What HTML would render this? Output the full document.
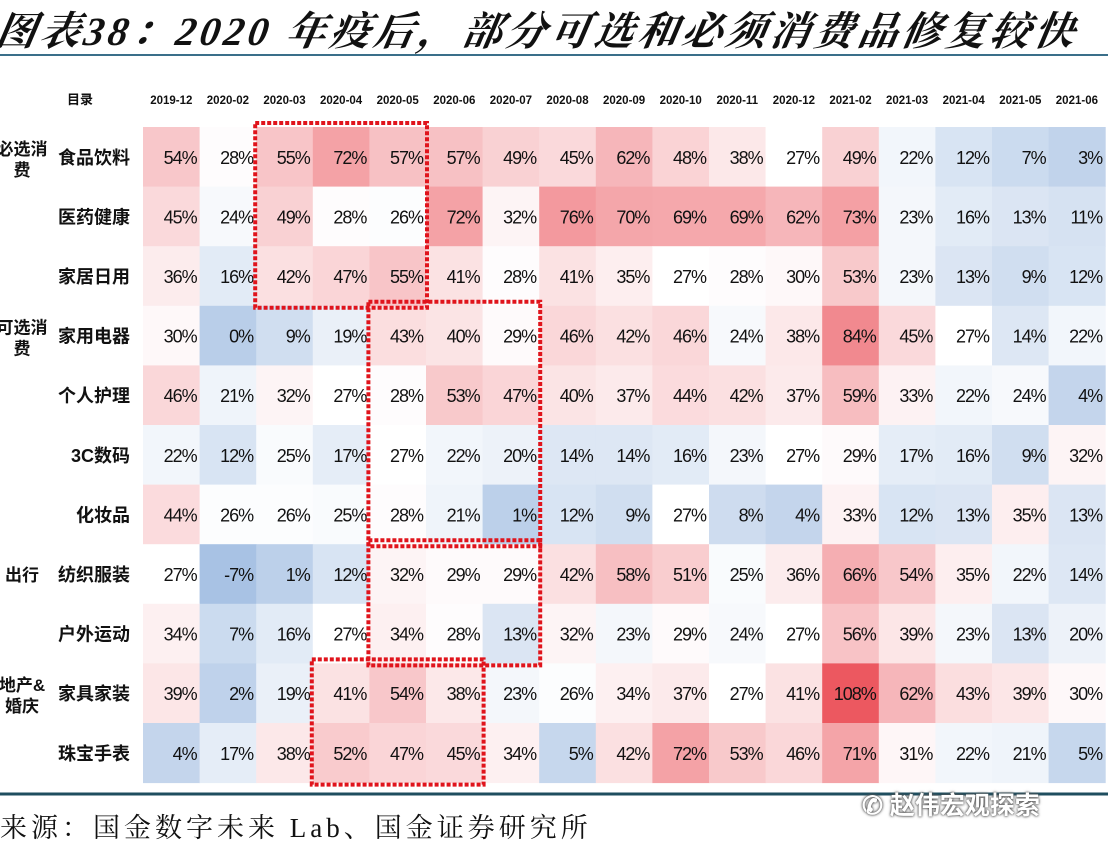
<!DOCTYPE html>
<html><head><meta charset="utf-8">
<style>
html,body{margin:0;padding:0;background:#fff;}
body{width:1108px;height:852px;overflow:hidden;position:relative;font-family:"Liberation Sans","Noto Sans CJK SC",sans-serif;}
#title{position:absolute;left:2px;top:0px;font-family:"Liberation Serif","Noto Serif CJK SC",serif;font-style:italic;font-weight:bold;font-size:40px;letter-spacing:4px;color:#111;white-space:nowrap;transform:skewX(-10deg);transform-origin:0 0;}
#src{position:absolute;left:0;top:806px;font-family:"Liberation Serif","Noto Serif CJK SC",serif;font-size:27px;color:#111;letter-spacing:4px;white-space:nowrap;}
#wm{position:absolute;left:862px;top:786px;font-size:25px;font-weight:bold;color:#fff;text-shadow:0 0 2px #444,0 0 3px #666;white-space:nowrap;}
</style></head><body>
<div id="title">图表38：2020 年疫后，部分可选和必须消费品修复较快</div>
<svg id="chart" width="1108" height="852" style="position:absolute;left:0;top:0"></svg>
<div id="src">来源：国金数字未来 Lab、国金证券研究所</div>
<div id="wm">✆ 赵伟宏观探索</div>
<script>
const months = ["2019-12","2020-02","2020-03","2020-04","2020-05","2020-06","2020-07","2020-08","2020-09","2020-10","2020-11","2020-12","2021-02","2021-03","2021-04","2021-05","2021-06"];
const categories = ["食品饮料","医药健康","家居日用","家用电器","个人护理","3C数码","化妆品","纺织服装","户外运动","家具家装","珠宝手表"];
const groups = [["必选消","费",0],["可选消","费",3],["出行","",7],["地产&","婚庆",9]];
const rowFood = [54,28,55,72,57,57,49,45,62,48,38,27,49,22,12,7,3];
const rowMed = [45,24,49,28,26,72,32,76,70,69,69,62,73,23,16,13,11];
const rowHome = [36,16,42,47,55,41,28,41,35,27,28,30,53,23,13,9,12];
const rowAppl = [30,0,9,19,43,40,29,46,42,46,24,38,84,45,27,14,22];
const rowCare = [46,21,32,27,28,53,47,40,37,44,42,37,59,33,22,24,4];
const row3C = [22,12,25,17,27,22,20,14,14,16,23,27,29,17,16,9,32];
const rowCos = [44,26,26,25,28,21,1,12,9,27,8,4,33,12,13,35,13];
const rowTex = [27,-7,1,12,32,29,29,42,58,51,25,36,66,54,35,22,14];
const rowOut = [34,7,16,27,34,28,13,32,23,29,24,27,56,39,23,13,20];
const rowFurn = [39,2,19,41,54,38,23,26,34,37,27,41,108,62,43,39,30];
const rowJew = [4,17,38,52,47,45,34,5,42,72,53,46,71,31,22,21,5];
const values = [rowFood,rowMed,rowHome,rowAppl,rowCare,row3C,rowCos,rowTex,rowOut,rowFurn,rowJew];
// highlight boxes: [firstCol,lastCol,firstRow,lastRow]
const boxes = [[2,4,0,2],[4,6,3,6],[4,6,7,8],[3,5,9,10]];

const NS="http://www.w3.org/2000/svg";
const svg=document.getElementById('chart');
const X0=143,CW=56.6,Y0=127,RH=59.6;
const xOf=i=>X0+i*CW, yOf=j=>Y0+j*RH;
function mk(t,a){const e=document.createElementNS(NS,t);for(const k in a)e.setAttribute(k,a[k]);svg.appendChild(e);return e;}
function color(v){
  const mid=27;
  let r,g,b,t;
  if(v>=mid){t=Math.min(1,(v-mid)/81);r=255-t*(255-236);g=255-t*(255-88);b=255-t*(255-96);}
  else{t=Math.min(1,(mid-v)/34);r=255-t*(255-168);g=255-t*(255-194);b=255-t*(255-228);}
  return `rgb(${r|0},${g|0},${b|0})`;
}
const l1=mk('line',{x1:0,y1:55,x2:1108,y2:55,stroke:'#3a6f8a','stroke-width':2});


const l2=mk('line',{x1:0,y1:794,x2:1108,y2:794,stroke:'#1f4e5f','stroke-width':3});


const hd=mk('text',{x:80,y:104,'font-size':13,'font-weight':'bold','text-anchor':'middle',fill:'#111'});
hd.textContent='目录';


months.forEach((m,i)=>{
  const t=mk('text',{x:xOf(i)+CW/2,y:104,'font-size':11.5,'font-weight':'bold','text-anchor':'middle',fill:'#111'});
  t.textContent=m;
  
  
});
values.forEach((row,j)=>{
  const lb=mk('text',{x:130,y:yOf(j)+RH/2+7,'font-size':18,'font-weight':'bold','text-anchor':'end',fill:'#111'});
  lb.textContent=categories[j];
  
  
  row.forEach((v,i)=>{
    const c=mk('rect',{x:xOf(i),y:yOf(j),width:CW+0.5,height:RH+0.5,fill:color(v)});
    
    
    const t=mk('text',{x:xOf(i)+CW-3,y:yOf(j)+RH/2+7,'font-size':18,'text-anchor':'end',fill:'#111','letter-spacing':'-1'});
    t.textContent=v+'%';
    
    
  });
});
groups.forEach(g=>{
  const y=yOf(g[2])+RH/2;
  const a=mk('text',{x:22,y:g[1]?y-2:y+7,'font-size':17,'font-weight':'bold','text-anchor':'middle',fill:'#111'});
  a.textContent=g[0];
  
  
  if(g[1]){const b=mk('text',{x:22,y:y+19,'font-size':17,'font-weight':'bold','text-anchor':'middle',fill:'#111'});
    b.textContent=g[1];
    
    }
});
boxes.forEach(bx=>{
  const r=mk('rect',{x:xOf(bx[0])-1,y:yOf(bx[2])-4,width:(bx[1]-bx[0]+1)*CW+2,height:(bx[3]-bx[2]+1)*RH+6,fill:'none',stroke:'#e0141c','stroke-width':4,'stroke-dasharray':'4 2'});
  
  
});
</script>
</body></html>
